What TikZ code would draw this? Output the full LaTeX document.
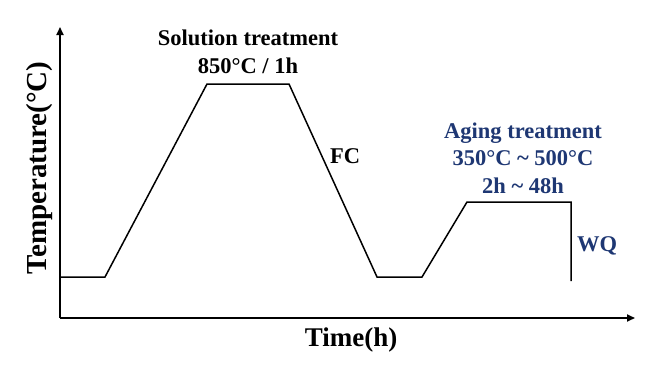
\documentclass[tikz,border=0pt]{standalone}
\usepackage{fontspec}
\setmainfont{Liberation Serif}
\usetikzlibrary{arrows.meta}
\definecolor{navy}{RGB}{30,55,115}
\tikzset{
  axis/.style={line width=1.7pt,-{Triangle[length=8pt,width=7pt]}},
  curve/.style={line width=1.5pt,line join=miter},
  lbl/.style={font=\fontsize{22.5}{27.5}\selectfont\bfseries,align=center,inner sep=0pt},
  axlbl/.style={font=\fontsize{27}{30}\selectfont\bfseries,inner sep=0pt},
}
\begin{document}
\begin{tikzpicture}[x=1pt,y=-1pt]
\useasboundingbox (0,0) rectangle (664,370);
\coordinate (o) at (60,318);
\coordinate (ytop) at (60,27);
\coordinate (xend) at (635,318);
\draw[axis] (o) -- (ytop);
\draw[axis] (o) -- (xend);
\coordinate (p0) at (60,277);
\coordinate (p1) at (105,277);
\coordinate (p2) at (207,84);
\coordinate (p3) at (289,84);
\coordinate (p4) at (377,277);
\coordinate (p5) at (422,277);
\coordinate (p6) at (467,202);
\coordinate (p7) at (571,202);
\coordinate (p8) at (571,281);
\draw[curve] (p0) -- (p1) -- (p2) -- (p3) -- (p4) -- (p5) -- (p6) -- (p7) -- (p8);
\node[lbl] (sol) at (248,52) {Solution treatment\\850\textdegree C / 1h};
\node[lbl] (fc) at (345,156) {FC};
\node[lbl,text=navy] (age) at (523,158) {Aging treatment\\350\textdegree C \textasciitilde{} 500\textdegree C\\2h \textasciitilde{} 48h};
\node[lbl,text=navy,anchor=west] (wq) at (577,246) {WQ};
\node[axlbl] (time) at (351,340) {Time(h)};
\node[axlbl,rotate=90,font=\fontsize{29}{32}\selectfont\bfseries] (temp) at (40,168) {Temperature(\textdegree C)};
\end{tikzpicture}
\end{document}
